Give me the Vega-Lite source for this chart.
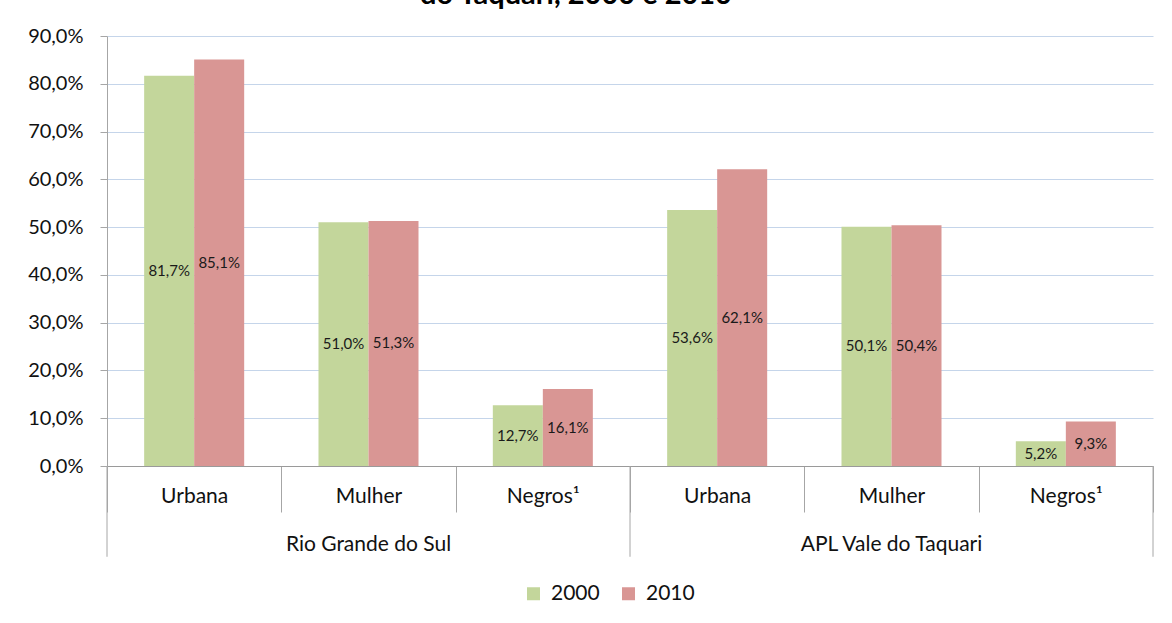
{
  "$schema": "https://vega.github.io/schema/vega-lite/v6.json",
  "autosize": {"type": "none"},
  "width": 1046,
  "height": 430,
  "padding": {"left": 107, "top": 36, "right": 19, "bottom": 157},
  "background": "white",
  "title": {
    "text": "do Taquari, 2000 e 2010",
    "anchor": "middle",
    "dx": -54,
    "offset": -7,
    "baseline": "alphabetic",
    "font": "Lato",
    "fontSize": 29,
    "fontWeight": "bold",
    "color": "#000000"
  },
  "config": {
    "locale": {"number": {"decimal": ",", "thousands": ".", "grouping": [3], "currency": ["R$", ""]}},
    "font": "Lato",
    "view": {"stroke": null}
  },
  "data": {
    "values": [
      {"key": "Rio Grande do Sul|Urbana", "group": "Rio Grande do Sul", "cat": "Urbana", "year": "2000", "value": 0.817},
      {"key": "Rio Grande do Sul|Urbana", "group": "Rio Grande do Sul", "cat": "Urbana", "year": "2010", "value": 0.851},
      {"key": "Rio Grande do Sul|Mulher", "group": "Rio Grande do Sul", "cat": "Mulher", "year": "2000", "value": 0.510},
      {"key": "Rio Grande do Sul|Mulher", "group": "Rio Grande do Sul", "cat": "Mulher", "year": "2010", "value": 0.513},
      {"key": "Rio Grande do Sul|Negros¹", "group": "Rio Grande do Sul", "cat": "Negros¹", "year": "2000", "value": 0.127},
      {"key": "Rio Grande do Sul|Negros¹", "group": "Rio Grande do Sul", "cat": "Negros¹", "year": "2010", "value": 0.161},
      {"key": "APL Vale do Taquari|Urbana", "group": "APL Vale do Taquari", "cat": "Urbana", "year": "2000", "value": 0.536},
      {"key": "APL Vale do Taquari|Urbana", "group": "APL Vale do Taquari", "cat": "Urbana", "year": "2010", "value": 0.621},
      {"key": "APL Vale do Taquari|Mulher", "group": "APL Vale do Taquari", "cat": "Mulher", "year": "2000", "value": 0.501},
      {"key": "APL Vale do Taquari|Mulher", "group": "APL Vale do Taquari", "cat": "Mulher", "year": "2010", "value": 0.504},
      {"key": "APL Vale do Taquari|Negros¹", "group": "APL Vale do Taquari", "cat": "Negros¹", "year": "2000", "value": 0.052},
      {"key": "APL Vale do Taquari|Negros¹", "group": "APL Vale do Taquari", "cat": "Negros¹", "year": "2010", "value": 0.093}
    ]
  },
  "resolve": {"scale": {"y": "independent"}},
  "layer": [
    {
      "mark": {"type": "bar"},
      "encoding": {
        "x": {
          "field": "key", "type": "nominal", "sort": null,
          "scale": {"paddingInner": 0, "paddingOuter": 0},
          "axis": {
            "title": null,
            "labelAngle": 0,
            "labelExpr": "split(datum.value, '|')[1]",
            "labelFont": "Lato",
            "labelFontSize": 21,
            "labelColor": "#111111",
            "labelPadding": -27,
            "tickBand": "extent",
            "tickSize": 46,
            "tickColor": "#A6A6A6",
            "domainColor": "#9A9A9A",
            "grid": false
          }
        },
        "xOffset": {
          "field": "year", "type": "nominal",
          "scale": {"paddingInner": 0, "paddingOuter": 0.743}
        },
        "y": {
          "field": "value", "type": "quantitative",
          "scale": {"domain": [0, 0.9], "nice": false, "zero": true},
          "axis": {
            "title": null,
            "values": [0, 0.1, 0.2, 0.3, 0.4, 0.5, 0.6, 0.7, 0.8, 0.9],
            "format": ".1%",
            "labelFont": "Lato",
            "labelFontSize": 20,
            "labelColor": "#111111",
            "labelPadding": 17,
            "tickSize": 7,
            "tickColor": "#A6A6A6",
            "domainColor": "#A6A6A6",
            "gridColor": "#C5D5EA",
            "gridWidth": 1
          }
        },
        "color": {
          "field": "year", "type": "nominal",
          "scale": {"domain": ["2000", "2010"], "range": ["#C3D69B", "#D99694"]},
          "legend": {
            "title": null,
            "orient": "none",
            "direction": "horizontal",
            "legendX": 416,
            "legendY": 547,
            "padding": 0,
            "symbolType": "square",
            "symbolSize": 169,
            "symbolStrokeWidth": 0,
            "labelFont": "Lato",
            "labelFontSize": 21,
            "labelColor": "#111111",
            "labelOffset": 7,
            "columnPadding": 18
          }
        }
      }
    },
    {
      "mark": {"type": "text", "font": "Lato", "fontSize": 15, "color": "#1a1a1a", "baseline": "middle", "align": "center"},
      "encoding": {
        "x": {"field": "key", "type": "nominal", "sort": null},
        "xOffset": {"field": "year", "type": "nominal"},
        "y": {
          "field": "value", "type": "quantitative",
          "scale": {"domain": [0, 1.8], "nice": false, "zero": true},
          "axis": null
        },
        "text": {"field": "value", "type": "quantitative", "format": ".1%"}
      }
    },
    {
      "transform": [{"filter": "datum.cat == 'Mulher' && datum.year == '2000'"}],
      "mark": {"type": "text", "font": "Lato", "fontSize": 21, "color": "#111111", "baseline": "middle", "align": "center"},
      "encoding": {
        "x": {"field": "key", "type": "nominal", "sort": null},
        "y": {"datum": -0.165, "type": "quantitative", "scale": {"domain": [0, 0.9], "nice": false}, "axis": null},
        "text": {"field": "group", "type": "nominal"}
      }
    },
    {
      "transform": [{"filter": "datum.cat == 'Urbana' && datum.year == '2000'"}],
      "mark": {"type": "rule", "color": "#A6A6A6", "strokeWidth": 1},
      "encoding": {
        "x": {"field": "key", "type": "nominal", "sort": null, "bandPosition": 0},
        "y": {"datum": 0, "type": "quantitative", "scale": {"domain": [0, 0.9], "nice": false}, "axis": null},
        "y2": {"datum": -0.19}
      }
    },
    {
      "transform": [{"filter": "datum.key == 'APL Vale do Taquari|Negros¹' && datum.year == '2000'"}],
      "mark": {"type": "rule", "color": "#A6A6A6", "strokeWidth": 1},
      "encoding": {
        "x": {"field": "key", "type": "nominal", "sort": null, "bandPosition": 1},
        "y": {"datum": 0, "type": "quantitative", "scale": {"domain": [0, 0.9], "nice": false}, "axis": null},
        "y2": {"datum": -0.19}
      }
    }
  ]
}
